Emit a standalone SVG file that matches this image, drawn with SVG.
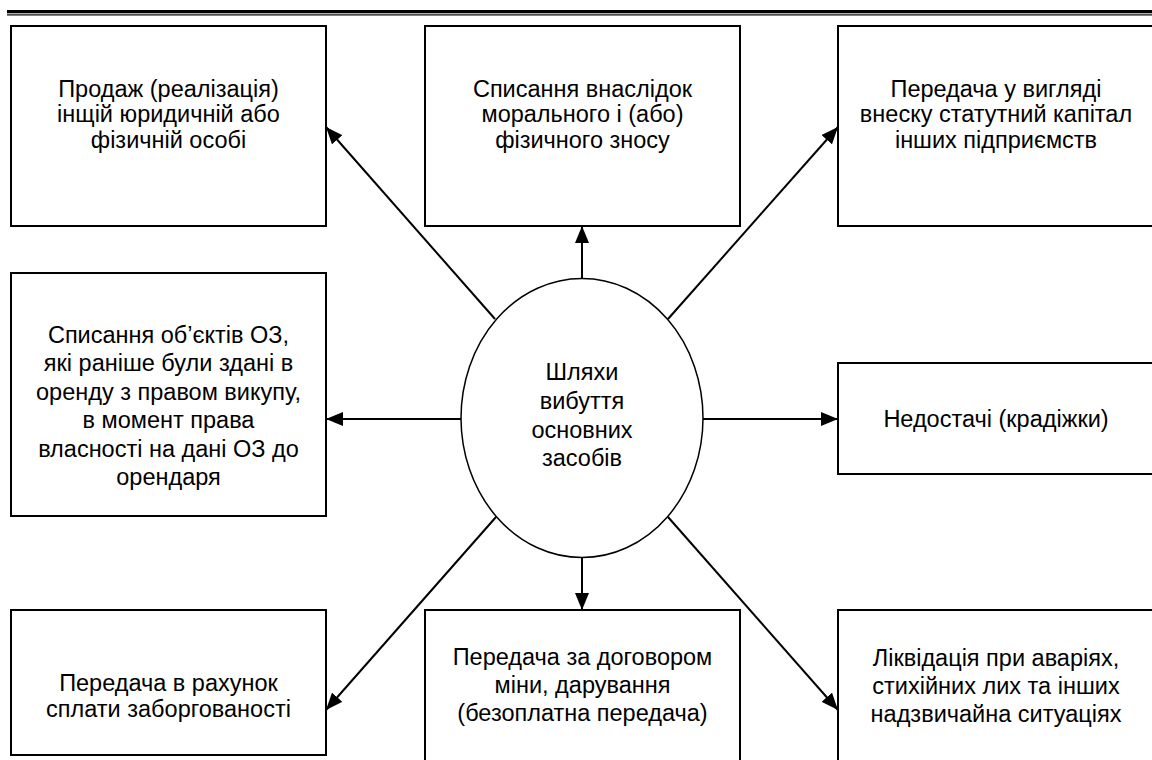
<svg xmlns="http://www.w3.org/2000/svg" width="1152" height="760" viewBox="0 0 1152 760">
<defs>
<style>
.box{fill:#fff;stroke:#000;stroke-width:2}
.t{font-family:"Liberation Sans",Arial,sans-serif;font-size:23.5px;fill:#000;text-anchor:middle}
.c{stroke:#000;stroke-width:2;fill:none;marker-end:url(#ah)}
</style>
<marker id="ah" viewBox="0 0 17 14" refX="17" refY="7" markerWidth="17" markerHeight="14" markerUnits="userSpaceOnUse" orient="auto">
<path d="M0,0 L17,7 L0,14 Z" fill="#000"/>
</marker>
</defs>
<rect x="0" y="0" width="1152" height="760" fill="#fff"/>
<g id="rule">
<rect x="7" y="10" width="1145" height="3.3" fill="#000"/>
<rect x="7" y="14.3" width="1145" height="1.2" fill="#000"/>
</g>
<g id="connectors">
<line class="c" x1="495" y1="319" x2="326" y2="127"/>
<line class="c" x1="582" y1="278" x2="582" y2="226"/>
<line class="c" x1="668" y1="319" x2="838" y2="127"/>
<line class="c" x1="462" y1="419" x2="326" y2="419"/>
<line class="c" x1="703" y1="419" x2="838" y2="419"/>
<line class="c" x1="496" y1="517" x2="326" y2="710"/>
<line class="c" x1="582" y1="557" x2="582" y2="610"/>
<line class="c" x1="668" y1="517" x2="838" y2="710"/>
</g>
<g id="n1">
<rect class="box" x="11" y="26" width="315" height="200"/>
<text class="t" x="168.5" y="96.5">Продаж (реалізація)</text>
<text class="t" x="168.5" y="122">інщій юридичній або</text>
<text class="t" x="168.5" y="147.5">фізичній особі</text>
</g>
<g id="n2">
<rect class="box" x="425" y="26" width="315" height="200"/>
<text class="t" x="582.5" y="96.5">Списання внаслідок</text>
<text class="t" x="582.5" y="122">морального і (або)</text>
<text class="t" x="582.5" y="147.5">фізичного зносу</text>
</g>
<g id="n3">
<rect class="box" x="838" y="26" width="316" height="200"/>
<text class="t" x="996" y="96.5">Передача у вигляді</text>
<text class="t" x="996" y="122">внеску статутний капітал</text>
<text class="t" x="996" y="147.5">інших підприємств</text>
</g>
<g id="n4">
<rect class="box" x="11" y="273" width="315" height="243"/>
<text class="t" x="168.5" y="343">Списання об’єктів ОЗ,</text>
<text class="t" x="168.5" y="371.4">які раніше були здані в</text>
<text class="t" x="168.5" y="399.8">оренду з правом викупу,</text>
<text class="t" x="168.5" y="428.2">в момент права</text>
<text class="t" x="168.5" y="456.6">власності на дані ОЗ до</text>
<text class="t" x="168.5" y="485">орендаря</text>
</g>
<g id="center">
<ellipse cx="582" cy="418" rx="121" ry="139.5" fill="#fff" stroke="#000" stroke-width="1.5"/>
<text class="t" x="582" y="379.5">Шляхи</text>
<text class="t" x="582" y="408.5">вибуття</text>
<text class="t" x="582" y="437.5">основних</text>
<text class="t" x="582" y="466">засобів</text>
</g>
<g id="n6">
<rect class="box" x="838" y="363" width="316" height="111"/>
<text class="t" x="996" y="427">Недостачі (крадіжки)</text>
</g>
<g id="n7">
<rect class="box" x="11" y="610" width="315" height="145"/>
<text class="t" x="168.5" y="691">Передача в рахунок</text>
<text class="t" x="168.5" y="717">сплати заборгованості</text>
</g>
<g id="n8">
<rect class="box" x="425" y="610" width="315" height="170"/>
<text class="t" x="582.5" y="665">Передача за договором</text>
<text class="t" x="582.5" y="693">міни, дарування</text>
<text class="t" x="582.5" y="721">(безоплатна передача)</text>
</g>
<g id="n9">
<rect class="box" x="838" y="610" width="316" height="170"/>
<text class="t" x="996" y="665.5">Ліквідація при аваріях,</text>
<text class="t" x="996" y="693.5">стихійних лих та інших</text>
<text class="t" x="996" y="721.5">надзвичайна ситуаціях</text>
</g>
</svg>
